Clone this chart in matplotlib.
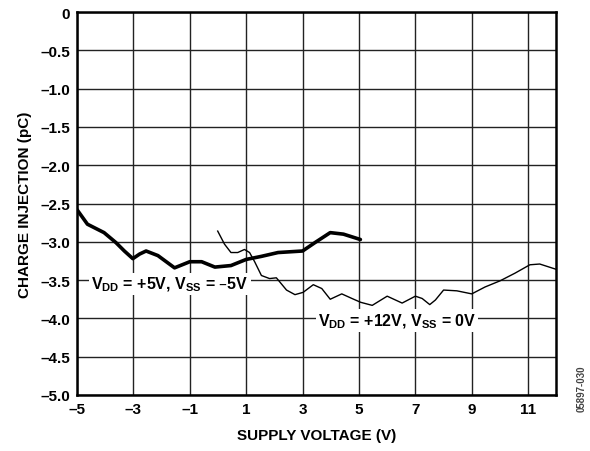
import numpy as np
import matplotlib
matplotlib.use("Agg")
from matplotlib import pyplot as plt

plt.rcParams["font.family"] = ["Liberation Sans", "DejaVu Sans"]
plt.rcParams["font.weight"] = "bold"
plt.rcParams["mathtext.default"] = "regular"

# VDD = +5V, VSS = -5V (thick)
v_dual = [-5.0, -4.63, -4.04, -3.62, -3.32, -3.02, -2.78, -2.55, -2.13, -1.54,
          -1.27, -1.0, -0.58, -0.11, 0.46, 1.0, 1.54, 2.13, 3.0, 3.44, 3.98,
          4.45, 5.05]
q_dual = [-2.58, -2.77, -2.88, -3.01, -3.12, -3.22, -3.16, -3.12, -3.18, -3.34,
          -3.30, -3.26, -3.26, -3.33, -3.31, -3.23, -3.19, -3.14, -3.12, -3.01,
          -2.88, -2.90, -2.97]

# VDD = +12V, VSS = 0V (thin)
v_single = [-0.01, 0.23, 0.46, 0.70, 0.94, 1.12, 1.30, 1.54, 1.83, 2.07, 2.43,
            2.73, 3.02, 3.38, 3.68, 3.98, 4.39, 4.75, 5.06, 5.47, 6.0, 6.53,
            7.0, 7.24, 7.51, 7.71, 8.0, 8.47, 9.0, 9.47, 10.0, 10.53, 11.06,
            11.41, 12.0]
q_single = [-2.86, -3.03, -3.14, -3.14, -3.10, -3.14, -3.26, -3.44, -3.48, -3.47,
            -3.63, -3.69, -3.66, -3.56, -3.61, -3.75, -3.68, -3.74, -3.79, -3.83,
            -3.71, -3.80, -3.71, -3.74, -3.82, -3.76, -3.63, -3.64, -3.68, -3.59,
            -3.51, -3.41, -3.30, -3.29, -3.36]

x_ticks = [-5, -3, -1, 1, 3, 5, 7, 9, 11]
y_ticks = [0, -0.5, -1.0, -1.5, -2.0, -2.5, -3.0, -3.5, -4.0, -4.5, -5.0]
y_labels = ["0", "–0.5", "–1.0", "–1.5", "–2.0", "–2.5", "–3.0", "–3.5", "–4.0", "–4.5", "–5.0"]

fig = plt.figure(figsize=(5.9, 4.52), dpi=100)
ax = fig.add_axes([0.1305, 0.124, 0.8125, 0.847])

ax.plot(v_dual, q_dual, color="black", lw=2.6, solid_capstyle="round",
        solid_joinstyle="round", zorder=3)
ax.plot(v_single, q_single, color="black", lw=1.0, solid_joinstyle="round", zorder=3)

ax.set_xlim(-5, 12)
ax.set_ylim(-5, 0)
ax.set_xticks(x_ticks)
ax.set_xticklabels([str(t).replace("-", "–") for t in x_ticks])
ax.set_yticks(y_ticks)
ax.set_yticklabels(y_labels)
ax.tick_params(length=0, labelsize=11, pad=5)
for lab in ax.get_xticklabels() + ax.get_yticklabels():
    lab.set_fontweight("bold")
ax.grid(True, color="#222222", lw=1.0)
ax.set_axisbelow(True)
for s in ax.spines.values():
    s.set_linewidth(1.8)

ax.set_xlabel("SUPPLY VOLTAGE (V)", fontsize=11, fontweight="bold", labelpad=9)
ax.set_ylabel("CHARGE INJECTION (pC)", fontsize=11, fontweight="bold", labelpad=6)

box = dict(facecolor="white", edgecolor="none", pad=1.5)
ax.text(-1.70, -3.55, r"V$_{DD}$ = +5V, V$_{SS}$ = –5V", fontsize=11.5,
        fontweight="bold", ha="center", va="center", bbox=box, zorder=4)
ax.text(6.35, -4.03, r"V$_{DD}$ = +12V, V$_{SS}$ = 0V", fontsize=11.5,
        fontweight="bold", ha="center", va="center", bbox=box, zorder=4)

fig.text(0.995, 0.14, "05897-030", rotation=90, fontsize=7, color="#444444",
         ha="right", va="center")

fig.savefig("out.png", dpi=100)
